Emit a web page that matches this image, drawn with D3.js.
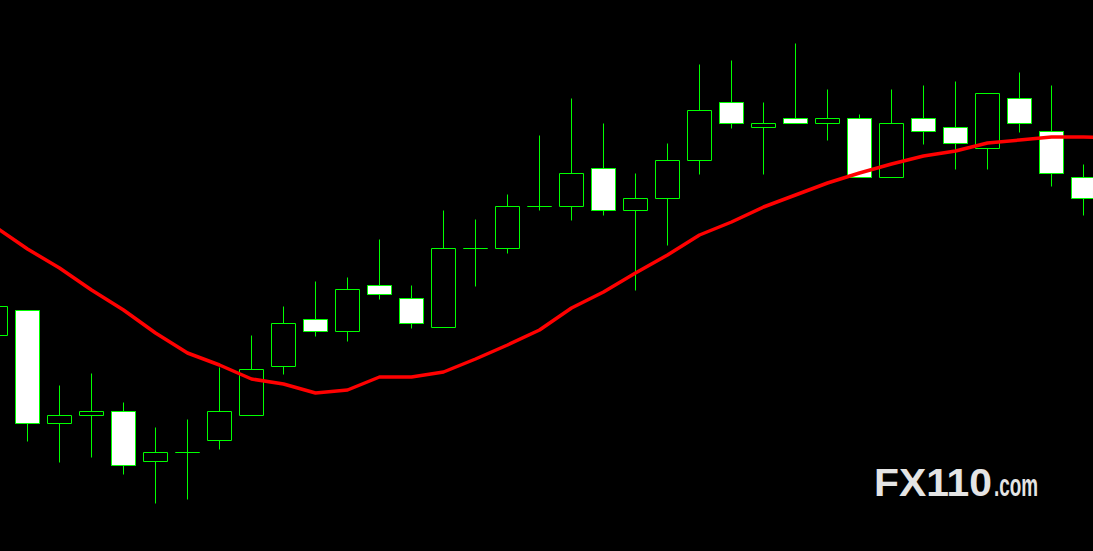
<!DOCTYPE html>
<html><head><meta charset="utf-8">
<script src="https://cdn.jsdelivr.net/npm/d3@7"></script>
<style>html,body{margin:0;padding:0;background:#000;overflow:hidden}</style>
</head><body>
<svg id="chart" width="1093" height="551"></svg>
<script>
// price values (points)
const opens  = [216,241,128,136,140,90,99,111,136,185,232,220,266,253,224,303,303,345,345,383,341,353,391,449,424,433,428,433,374,433,424,403,453,420,374];
const highs  = [245,241,166,178,149,124,132,184,216,245,270,274,312,266,341,332,357,416,453,428,378,408,487,491,449,508,462,437,462,466,470,458,479,466,387];
const lows   = [216,110,89,94,77,48,52,102,136,177,215,210,252,223,224,265,298,341,331,336,261,306,377,423,377,428,411,374,374,407,382,382,419,365,336];
const closes = [245,128,136,140,86,99,99,140,182,228,220,262,257,228,303,303,345,345,378,341,353,391,441,428,428,428,433,374,428,420,408,458,428,378,353];
const maValues = [324,302,283,261,241,218,198,186,172,167,158,161,174,174,179,192,206,221,243,259,278,296,316,329,344,356,368,378,387,395,400,408,411,414,414,413];

const W = 1093, H = 551;
const svg = d3.select("#chart");
svg.append("rect").attr("width", W).attr("height", H).attr("fill", "#000");

const x = d3.scaleLinear().domain([0, 34]).range([-4.5, 1083.5]);
const y = d3.scaleLinear().domain([0, 551]).range([551.5, 0.5]);

const candles = opens.map((o, i) => ({i, o, h: highs[i], l: lows[i], c: closes[i]}));
const half = 12;
const g = svg.append("g");

// wicks
g.selectAll("line.wick").data(candles).enter().append("line")
  .attr("class", "wick")
  .attr("x1", d => x(d.i)).attr("x2", d => x(d.i))
  .attr("y1", d => y(d.h)).attr("y2", d => y(d.l))
  .attr("stroke", "#00ff00").attr("stroke-width", 1);

// bodies
g.selectAll("path.body").data(candles).enter().append("path")
  .attr("class", "body")
  .attr("d", d => {
    const x0 = x(d.i) - half, x1 = x(d.i) + half;
    const yt = y(Math.max(d.o, d.c)), yb = y(Math.min(d.o, d.c));
    return `M${x0},${yt}H${x1}V${yb}H${x0}Z`;
  })
  .attr("fill", d => d.c < d.o ? "#ffffff" : "#000000")
  .attr("stroke", "#00ff00").attr("stroke-width", 1);

// moving average
const line = d3.line().x((d, i) => x(i)).y(d => y(d) - 0.5);
svg.append("path").datum(maValues)
  .attr("d", line)
  .attr("fill", "none").attr("stroke", "#ff0000").attr("stroke-width", 3.5)
  .attr("stroke-linejoin", "round");

// watermark
const logo = svg.append("g").attr("fill", "#e4e4e4");
logo.append("text").attr("x", 874).attr("y", 496)
  .attr("font-family", "Liberation Sans, Arial, sans-serif").attr("font-weight", "bold")
  .attr("font-size", 39).attr("textLength", 118).attr("lengthAdjust", "spacingAndGlyphs")
  .text("FX110");
logo.append("text").attr("x", 994).attr("y", 496)
  .attr("font-family", "Liberation Sans, Arial, sans-serif").attr("font-weight", "bold")
  .attr("font-size", 31).attr("textLength", 44).attr("lengthAdjust", "spacingAndGlyphs")
  .text(".com");
</script>
</body></html>
